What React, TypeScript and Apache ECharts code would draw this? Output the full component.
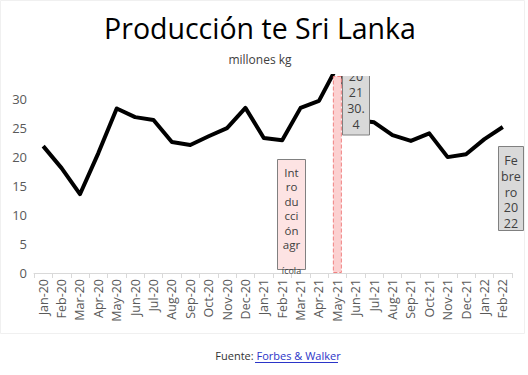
import React, { useEffect, useRef } from "react";
import * as echarts from "echarts";

const categories = [
  "Jan-20", "Feb-20", "Mar-20", "Apr-20", "May-20", "Jun-20", "Jul-20", "Aug-20", "Sep-20",
  "Oct-20", "Nov-20", "Dec-20", "Jan-21", "Feb-21", "Mar-21", "Apr-21", "May-21", "Jun-21",
  "Jul-21", "Aug-21", "Sep-21", "Oct-21", "Nov-21", "Dec-21", "Jan-22", "Feb-22",
];

const production = [
  21.9, 18.1, 13.6, 20.7, 28.4, 26.9, 26.4, 22.6, 22.1, 23.6, 25.0, 28.5, 23.3,
  22.9, 28.5, 29.7, 35.7, 26.4, 26.0, 23.8, 22.8, 24.1, 20.0, 20.5, 23.1, 25.2,
];

const yTicks = [0, 5, 10, 15, 20, 25, 30];
const yMax = 34;
const highlightMonth = "May-21";
const highlight = categories.map((c) => (c === highlightMonth ? yMax : null));

const titleText = "Producción te Sri Lanka";
const subtitleText = "millones kg";
const mayLabelLines = ["20", "21", "30.", "4"];
const introLabelLines = ["Int", "ro", "du", "cci", "ón", "agr"];
const introOverflow = "ícola";
const febLabelLines = ["Fe", "bre", "ro", "20", "22"];

const FONT = "'Open Sans', 'Noto Sans', sans-serif";

function boxText(lines: string[], cx: number, yTop: number, lh: number, fs: number) {
  return {
    type: "text",
    z: 20,
    x: cx,
    y: yTop,
    style: {
      text: lines.join("\n"),
      fill: "#404040",
      font: `${fs}px ${FONT}`,
      lineHeight: lh,
      align: "center",
      verticalAlign: "top",
    },
  };
}

export default function App() {
  const ref = useRef<HTMLDivElement>(null);

  useEffect(() => {
    if (!ref.current) return;
    const chart = echarts.init(ref.current, null, { renderer: "svg" });
    chart.setOption({
      animation: false,
      backgroundColor: "#ffffff",
      grid: { left: 34, right: 16, top: 76, bottom: 102, containLabel: false },
      xAxis: {
        type: "category",
        data: categories,
        boundaryGap: true,
        axisLine: { lineStyle: { color: "#d9d9d9", width: 1 } },
        axisTick: { show: true, length: 5, lineStyle: { color: "#d9d9d9" } },
        axisLabel: {
          rotate: 90,
          interval: 0,
          margin: 6,
          fontSize: 12.5,
          color: "#595959",
          fontFamily: FONT,
        },
        splitLine: { show: false },
      },
      yAxis: {
        type: "value",
        min: 0,
        max: yMax,
        interval: 5,
        axisLine: { show: false },
        axisTick: { show: false },
        splitLine: { show: false },
        axisLabel: {
          margin: 7,
          fontSize: 13,
          color: "#595959",
          fontFamily: FONT,
          formatter: (v: number) => (yTicks.includes(v) ? String(v) : ""),
        },
      },
      series: [
        {
          type: "line",
          data: production,
          showSymbol: false,
          symbol: "none",
          clip: true,
          z: 2,
          lineStyle: { color: "#000000", width: 4, join: "round" },
        },
        {
          type: "bar",
          data: highlight,
          barWidth: 9,
          z: 6,
          itemStyle: {
            color: "#fcd0d0",
            borderColor: "#f08080",
            borderWidth: 1,
            borderType: "dashed",
          },
        },
      ],
      graphic: [
        {
          type: "rect",
          z: 0,
          shape: { x: 0.5, y: 0.5, width: 524, height: 333 },
          style: { fill: "none", stroke: "#f0f0f0", lineWidth: 1 },
        },
        {
          type: "text",
          z: 20,
          x: 260,
          y: 28,
          style: {
            text: titleText,
            fill: "#000000",
            font: `28.5px ${FONT}`,
            align: "center",
            verticalAlign: "middle",
          },
        },
        {
          type: "text",
          z: 20,
          x: 260,
          y: 59,
          style: {
            text: subtitleText,
            fill: "#404040",
            font: `12px ${FONT}`,
            align: "center",
            verticalAlign: "middle",
          },
        },
        // May-21 label box (clipped at top)
        {
          type: "rect",
          z: 18,
          shape: { x: 342.5, y: 60, width: 27, height: 75 },
          style: { fill: "#d9d9d9", stroke: "#808080", lineWidth: 1 },
        },
        boxText(mayLabelLines, 356, 68, 16, 12.5),
        {
          type: "rect",
          z: 21,
          shape: { x: 338, y: 40, width: 40, height: 36 },
          style: { fill: "#ffffff" },
        },
        // Intro box
        {
          type: "rect",
          z: 18,
          shape: { x: 277.5, y: 159.5, width: 28, height: 110 },
          style: { fill: "#fde3e3", stroke: "#808080", lineWidth: 1 },
        },
        boxText(introLabelLines, 291.5, 165, 14.5, 11.5),
        {
          type: "text",
          z: 20,
          x: 291.5,
          y: 270,
          style: {
            text: introOverflow,
            fill: "#404040",
            font: `9px ${FONT}`,
            align: "center",
            verticalAlign: "middle",
          },
        },
        // Feb-22 box
        {
          type: "rect",
          z: 18,
          shape: { x: 498.5, y: 146.5, width: 25, height: 84 },
          style: { fill: "#d9d9d9", stroke: "#808080", lineWidth: 1 },
        },
        boxText(febLabelLines, 511, 153, 15.6, 12.5),
        // footer
        {
          type: "text",
          z: 20,
          x: 278,
          y: 355,
          style: {
            text: "{a|Fuente: }{b|Forbes & Walker}",
            align: "center",
            verticalAlign: "middle",
            rich: {
              a: { fill: "#333333", font: `11px ${FONT}` },
              b: { fill: "#2b35c8", font: `11px ${FONT}` },
            },
          },
        },
        {
          type: "line",
          z: 20,
          shape: { x1: 255, y1: 362.5, x2: 338, y2: 362.5 },
          style: { stroke: "#2b35c8", lineWidth: 1 },
        },
      ],
    });
    return () => chart.dispose();
  }, []);

  return (
    <div
      ref={ref}
      style={{ position: "absolute", left: 0, top: 0, width: 528, height: 375, background: "#fff" }}
    />
  );
}
